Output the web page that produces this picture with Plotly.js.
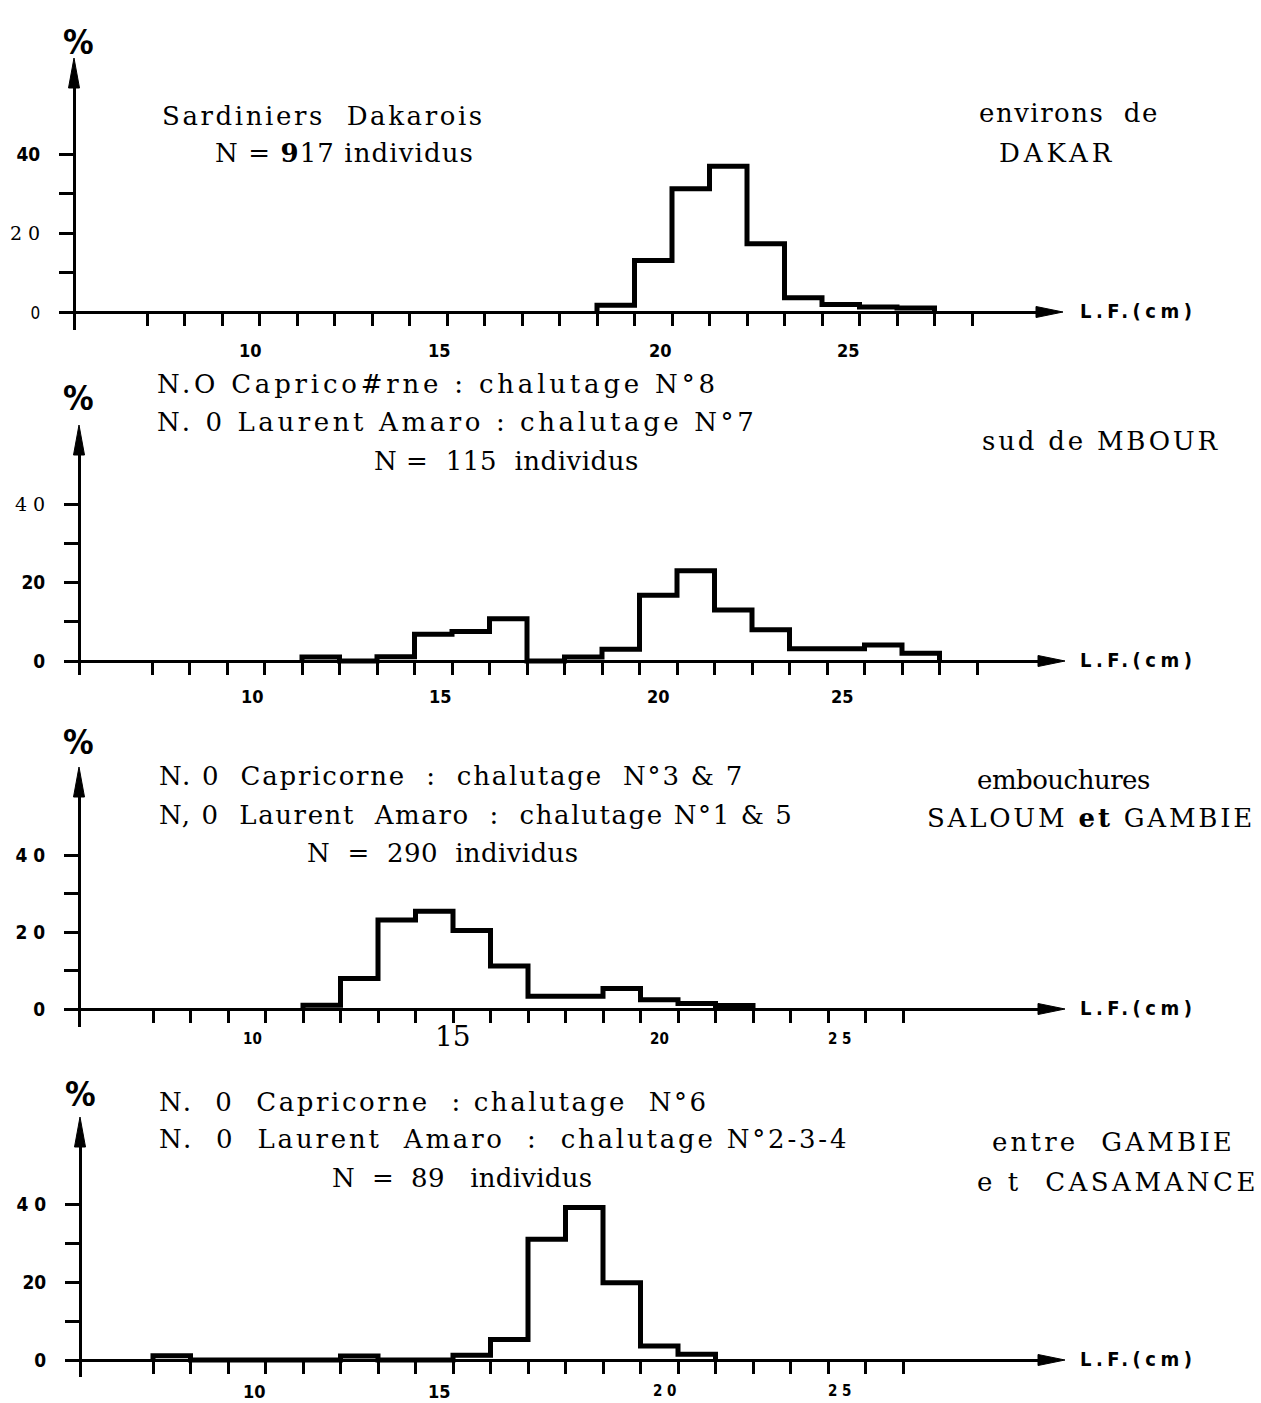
<!DOCTYPE html>
<html>
<head>
<meta charset="utf-8">
<script src="https://cdn.plot.ly/plotly-3.0.1.min.js"></script>
<style>html,body{margin:0;padding:0;background:#fff;}#chart{width:1261px;height:1403px;}</style>
</head>
<body>
<div id="chart"></div>
<script>
// ---------------- DATA ----------------
// Fork-length classes (cm, class centres) and percentage per class
const lenDakar   = [19, 20, 21, 22, 23, 24, 25, 26, 27];
const pctDakar   = [1.7, 13.1, 31.3, 37.0, 17.3, 3.6, 1.9, 1.3, 1.0];

const lenMbour   = [11, 12, 13, 14, 15, 16, 17, 18, 19, 20, 21, 22, 23, 24, 25, 26, 27];
const pctMbour   = [1.0, 0, 1.1, 6.8, 7.5, 10.8, 0, 1.0, 3.0, 16.8, 23.0, 13.0, 8.0, 3.1, 3.1, 4.1, 2.0];

const lenSaloum  = [11, 12, 13, 14, 15, 16, 17, 18, 19, 20, 21, 22];
const pctSaloum  = [1.0, 7.9, 23.1, 25.4, 20.4, 11.2, 3.3, 3.3, 5.3, 2.4, 1.4, 0.9];

const lenCasam   = [7, 8, 9, 10, 11, 12, 13, 14, 15, 16, 17, 18, 19, 20, 21];
const pctCasam   = [1.1, 0, 0, 0, 0, 1.0, 0, 0, 1.2, 5.3, 31.1, 39.3, 19.9, 3.6, 1.5];

// Tick labels
const yTickVals  = [0, 10, 20, 30, 40];
const yLabDakar  = ['0', '', '2 0', '', '40'];
const yLabMbour  = ['0', '', '20', '', '4 0'];
const yLabSaloum = ['0', '', '2 0', '', '4 0'];
const yLabCasam  = ['0', '', '20', '', '4 0'];
const xLabText   = ['10', '15', '20', '25'];
const xLabTextSaloum = ['10', '15', '20', '2 5'];
const xLabTextCasam  = ['10', '15', '2 0', '2 5'];
// where the printed labels sit on the length scale (as printed, cm)
const xLabPosDakar  = [9.25, 14.3, 20.2, 25.2];
const xLabPosMbour  = [9.17, 14.2, 20.0, 24.9];
const xLabPosSaloum = [9.14, 14.5, 20.0, 24.8];
const xLabPosCasam  = [9.2, 14.15, 20.15, 24.8];

// Panel texts
const txtDakar  = ['Sardiniers  Dakarois', 'N = <b>9</b>17 individus'];
const rightDakar = ['environs  de', 'DAKAR'];
const txtMbour  = ['N.O Caprico#rne : chalutage N°8', 'N. 0 Laurent Amaro : chalutage N°7', 'N =  115  individus'];
const rightMbour = ['sud de MBOUR'];
const txtSaloum = ['N. 0  Capricorne  :  chalutage  N°3 &amp; 7', 'N, 0  Laurent  Amaro  :  chalutage N°1 &amp; 5', 'N  =  290  individus'];
const rightSaloum = ['embouchures', 'SALOUM <b>et</b> GAMBIE'];
const txtCasam  = ['N.  0  Capricorne  : chalutage  N°6', 'N.  0  Laurent  Amaro  :  chalutage N°2-3-4', 'N  =  89   individus'];
const rightCasam = ['entre  GAMBIE', 'e t  CASAMANCE'];

const axisTitle = 'L.F.(cm)';

// ---------------- LAYOUT GEOMETRY ----------------
const W = 1261, H = 1403;
const PXCM = 37.5;             // pixels per cm on each length axis
const SERIF = "'DejaVu Serif', 'Liberation Serif', serif";
const SANS = "'DejaVu Sans Condensed', 'Liberation Sans Narrow', 'DejaVu Sans', sans-serif";
const fx = p => p / W;
const fy = p => 1 - p / H;

const panels = [
  {len: lenDakar, pct: pctDakar, ylab: yLabDakar, ylabStyle: ['light','','serif','','bold'],
   xlab: xLabText, xpos: xLabPosDakar, xlabStyle: ['b','b','b','b'],
   yAxisPx: 74, baseStart: 62, tick0Px: 147, arrowTip: 1063, base: 312, yTip: 58, yBottom: 330, ppp: 3.94,
   lastTick: 28.5, pctY: 42, pctX: 78, xLabDy: 38,
   txt: txtDakar, txtX: [160, 213], txtY: [116, 153], txtLS: [2.6, 1.1],
   right: rightDakar, rightX: [977, 997], rightY: [113, 153], rightLS: [1.5, 4]},
  {len: lenMbour, pct: pctMbour, ylab: yLabMbour, ylabStyle: ['bold','','bold','','serif'],
   xlab: xLabText, xpos: xLabPosMbour, xlabStyle: ['b','b','b','b'],
   yAxisPx: 79, baseStart: 67, tick0Px: 152, arrowTip: 1065, base: 661, yTip: 425, yBottom: 675, ppp: 3.92,
   lastTick: 28.5, pctY: 398, pctX: 78, xLabDy: 36,
   txt: txtMbour, txtX: [155, 155, 372], txtY: [384, 422, 461], txtLS: [3.8, 3.6, 0.5],
   right: rightMbour, rightX: [980], rightY: [441], rightLS: [2.8]},
  {len: lenSaloum, pct: pctSaloum, ylab: yLabSaloum, ylabStyle: ['bold','','bold','','bold'],
   xlab: xLabTextSaloum, xpos: xLabPosSaloum, xlabStyle: ['s','serif','s','s'],
   yAxisPx: 79, baseStart: 67, tick0Px: 153, arrowTip: 1065, base: 1009, yTip: 767, yBottom: 1027, ppp: 3.85,
   lastTick: 26.5, pctY: 742, pctX: 78, xLabDy: 30,
   txt: txtSaloum, txtX: [157, 157, 305], txtY: [776, 815, 853], txtLS: [1.8, 1.6, 0.4],
   right: rightSaloum, rightX: [975, 925], rightY: [780, 818], rightLS: [-0.5, 2.8]},
  {len: lenCasam, pct: pctCasam, ylab: yLabCasam, ylabStyle: ['bold','','bold','','bold'],
   xlab: xLabTextCasam, xpos: xLabPosCasam, xlabStyle: ['b','b','s','s'],
   yAxisPx: 80, baseStart: 68, tick0Px: 153, arrowTip: 1065, base: 1360, yTip: 1117, yBottom: 1377, ppp: 3.88,
   lastTick: 26.5, pctY: 1094, pctX: 80, xLabDy: 31,
   txt: txtCasam, txtX: [157, 157, 330], txtY: [1102, 1139, 1178], txtLS: [2.6, 2.8, 0.25],
   right: rightCasam, rightX: [990, 975], rightY: [1142, 1182], rightLS: [3.2, 3.5]}
];

function yStyle(t, s) {
  if (!t) return '';
  if (s === 'serif') return '<span style="font-family:DejaVu Serif;font-weight:normal;font-size:19px">' + t + '</span>';
  if (s === 'light') return '<span style="font-weight:normal;font-size:17px">' + t + '</span>';
  return '<span style="font-weight:bold">' + t + '</span>';
}

const data = [];
const layout = {
  width: W, height: H,
  margin: {l: 0, r: 0, t: 0, b: 0},
  paper_bgcolor: '#ffffff', plot_bgcolor: 'rgba(0,0,0,0)',
  showlegend: false,
  annotations: [], shapes: []
};

panels.forEach((P, i) => {
  const n = i + 1;
  const xa = 'x' + (n === 1 ? '' : n), ya = 'y' + (n === 1 ? '' : n);
  const xk = 'xaxis' + (n === 1 ? '' : n), yk = 'yaxis' + (n === 1 ? '' : n);
  const val = p => 6.5 + (p - P.tick0Px) / PXCM;
  const xEnd = P.arrowTip - 24;
  const yTop = P.yTip + 26;

  // step outline of the histogram
  const sx = [P.len[0] - 0.5], sy = [0];
  P.len.forEach((c, k) => { sx.push(c - 0.5); sy.push(P.pct[k]); });
  sx.push(P.len[P.len.length - 1] + 0.5); sy.push(0);
  data.push({x: sx, y: sy, xaxis: xa, yaxis: ya, type: 'scatter', mode: 'lines',
             line: {shape: 'hv', color: '#000', width: 5}, hoverinfo: 'skip', cliponaxis: false});

  const tv = [];
  for (let t = 6.5; t <= P.lastTick + 1e-9; t += 1) tv.push(t);

  layout[xk] = {
    domain: [fx(P.baseStart), fx(xEnd)], range: [val(P.baseStart), val(xEnd)],
    anchor: 'free', position: fy(P.base),
    showline: true, linewidth: 3, linecolor: '#000',
    ticks: 'outside', ticklen: 12, tickwidth: 3, tickcolor: '#000',
    tickmode: 'array', tickvals: tv, showticklabels: false,
    showgrid: false, zeroline: false, fixedrange: true
  };
  layout[yk] = {
    domain: [fy(P.yBottom), fy(yTop)],
    range: [(P.base - P.yBottom) / P.ppp, (P.base - yTop) / P.ppp],
    anchor: 'free', position: fx(P.yAxisPx),
    showline: true, linewidth: 3, linecolor: '#000',
    ticks: 'outside', ticklen: 14, tickwidth: 3, tickcolor: '#000',
    tickmode: 'array', tickvals: yTickVals,
    ticktext: P.ylab.map((t, k) => yStyle(t, P.ylabStyle[k])),
    tickfont: {family: SANS, size: 19, color: '#000'},
    ticklabelstandoff: 15,
    showgrid: false, zeroline: false, fixedrange: true
  };

  // arrowheads
  const ax = P.yAxisPx, ayT = P.yTip;
  layout.shapes.push({type: 'path', xref: 'paper', yref: 'paper', layer: 'above',
    path: `M ${fx(ax)} ${fy(ayT)} L ${fx(ax - 5.5)} ${fy(ayT + 30)} L ${fx(ax + 5.5)} ${fy(ayT + 30)} Z`,
    fillcolor: '#000', line: {color: '#000', width: 1}});
  layout.shapes.push({type: 'path', xref: 'paper', yref: 'paper', layer: 'above',
    path: `M ${fx(P.arrowTip)} ${fy(P.base)} L ${fx(P.arrowTip - 27)} ${fy(P.base - 5.5)} L ${fx(P.arrowTip - 27)} ${fy(P.base + 5.5)} Z`,
    fillcolor: '#000', line: {color: '#000', width: 1}});

  // % label
  layout.annotations.push({xref: 'paper', yref: 'paper', x: fx(P.pctX), y: fy(P.pctY),
    text: '<b>%</b>', showarrow: false, xanchor: 'center', yanchor: 'middle',
    font: {family: SANS, size: 34, color: '#000'}});
  // axis title
  layout.annotations.push({xref: 'paper', yref: 'paper', x: fx(1078), y: fy(P.base - 1),
    text: '<span style="letter-spacing:4.5px"><b>' + axisTitle + '</b></span>', showarrow: false,
    xanchor: 'left', yanchor: 'middle', font: {family: SANS, size: 20, color: '#000'}});

  // length tick labels, placed on the length scale
  P.xlab.forEach((t, k) => {
    const st = P.xlabStyle[k];
    let font = {family: SANS, size: 18, color: '#000', weight: 'bold'};
    if (st === 's') font = {family: SANS, size: 15, color: '#000', weight: 'bold'};
    if (st === 'serif') font = {family: SERIF, size: 28, color: '#000'};
    layout.annotations.push({xref: xa, yref: 'paper', x: P.xpos[k], y: fy(P.base + P.xLabDy + (st === 'serif' ? -3 : 0)),
      text: t, showarrow: false, xanchor: 'center', yanchor: 'middle', font: font});
  });

  // panel texts
  P.txt.forEach((t, k) => {
    layout.annotations.push({xref: 'paper', yref: 'paper', x: fx(P.txtX[k]), y: fy(P.txtY[k]),
      text: '<span style="letter-spacing:' + P.txtLS[k] + 'px">' + t + '</span>', showarrow: false,
      xanchor: 'left', yanchor: 'middle', font: {family: SERIF, size: 26, color: '#000'}});
  });
  P.right.forEach((t, k) => {
    layout.annotations.push({xref: 'paper', yref: 'paper', x: fx(P.rightX[k]), y: fy(P.rightY[k]),
      text: '<span style="letter-spacing:' + P.rightLS[k] + 'px">' + t + '</span>', showarrow: false,
      xanchor: 'left', yanchor: 'middle', font: {family: SERIF, size: 26, color: '#000'}});
  });
});

Plotly.newPlot('chart', data, layout, {staticPlot: true, displayModeBar: false});
</script>
</body>
</html>
